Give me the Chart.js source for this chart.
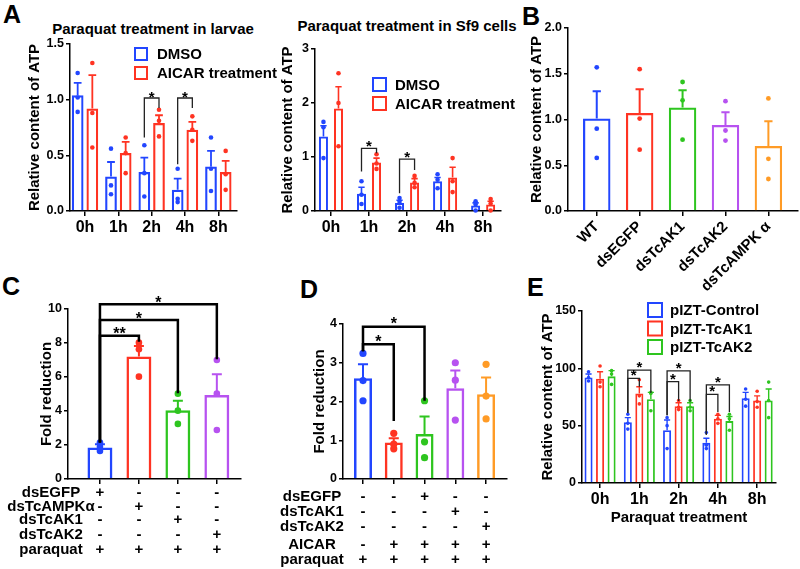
<!DOCTYPE html>
<html lang="en">
<head>
<meta charset="UTF-8">
<title>ATP content panels</title>
<script src="https://cdn.jsdelivr.net/npm/chart.js"></script>
<style>
    body { margin: 0; background: #fff; }
    #fig { position: relative; width: 800px; height: 569px; overflow: hidden;
           font-family: Arial, "Liberation Sans", sans-serif; font-weight: bold; color: #000; }
    #fig canvas, #fig .txt { position: absolute; }
    .letter { font-size: 25px; line-height: 1; }
    .ptitle { font-size: 15px; line-height: 1; width: 300px; text-align: center; }
</style>
</head>
<body>
<div id="fig">
    <div class="txt letter" style="left:3px; top:2px">A</div>
    <div class="txt letter" style="left:522px; top:4px">B</div>
    <div class="txt letter" style="left:2px; top:274px">C</div>
    <div class="txt letter" style="left:300px; top:277px">D</div>
    <div class="txt letter" style="left:527px; top:275px">E</div>
    <div class="txt ptitle" style="left:3px; top:21px">Paraquat treatment in larvae</div>
    <div class="txt ptitle" style="left:257px; top:18px">Paraquat treatment in Sf9 cells</div>

    <canvas id="chartA1" width="278" height="215" style="left:0px; top:30px"></canvas>
    <canvas id="chartA2" width="242" height="215" style="left:278px; top:30px"></canvas>
    <canvas id="chartB" width="280" height="274" style="left:520px; top:18px"></canvas>
    <canvas id="chartC" width="262" height="283" style="left:0px; top:286px"></canvas>
    <canvas id="chartD" width="252" height="269" style="left:268px; top:300px"></canvas>
    <canvas id="chartE" width="272" height="240" style="left:528px; top:290px"></canvas>
</div>
<script>
// ---- data ----
const timeLabels = ['0h', '1h', '2h', '4h', '8h'];

// A left: paraquat in larvae
const larvaeDmsoMean = [1.04, 0.31, 0.35, 0.19, 0.40];
const larvaeDmsoSem  = [0.11, 0.13, 0.13, 0.10, 0.14];
const larvaeDmsoPts  = [[1.24, 1.02, 0.89], [0.56, 0.23, 0.15], [0.59, 0.34, 0.13], [0.38, 0.11, 0.08], [0.66, 0.38, 0.18]];
const larvaeAicarMean = [0.92, 0.52, 0.79, 0.73, 0.35];
const larvaeAicarSem  = [0.30, 0.10, 0.07, 0.07, 0.10];
const larvaeAicarPts  = [[1.33, 0.88, 0.57], [0.66, 0.52, 0.34], [0.91, 0.81, 0.67], [0.85, 0.73, 0.63], [0.54, 0.33, 0.19]];
const larvaeBrackets = [
    { from: [2, 0], to: [2, 1], fromY: 0.66, toY: 0.925, top: 1.015, text: '*' },
    { from: [3, 0], to: [3, 1], fromY: 0.42, toY: 0.925, top: 1.015, text: '*' }
];

// A right: paraquat in Sf9 cells
const sf9DmsoMean = [1.38, 0.32, 0.15, 0.55, 0.10];
const sf9DmsoSem  = [0.20, 0.12, 0.05, 0.07, 0.05];
const sf9DmsoPts  = [[1.65, 1.55, 0.98], [0.55, 0.30, 0.13], [0.24, 0.17, 0.06], [0.68, 0.58, 0.42], [0.18, 0.12, 0.01]];
const sf9AicarMean = [1.90, 0.90, 0.53, 0.62, 0.12];
const sf9AicarSem  = [0.40, 0.08, 0.07, 0.19, 0.06];
const sf9AicarPts  = [[2.55, 2.00, 1.20], [1.05, 0.88, 0.78], [0.65, 0.52, 0.44], [0.98, 0.55, 0.35], [0.22, 0.14, 0.01]];
const sf9Brackets = [
    { from: [1, 0], to: [1, 1], fromY: 0.73, toY: 1.07, top: 1.16, text: '*' },
    { from: [2, 0], to: [2, 1], fromY: 0.33, toY: 0.76, top: 0.96, text: '*' }
];

// B: knockdown
const knockLabels = ['WT', 'dsEGFP', 'dsTcAK1', 'dsTcAK2', 'dsTcAMPK α'];
const knockMean = [1.01, 1.07, 1.13, 0.94, 0.71];
const knockSem  = [0.30, 0.26, 0.19, 0.14, 0.27];
const knockPts  = [[1.57, 0.90, 0.58], [1.55, 1.01, 0.67], [1.41, 1.21, 0.78], [1.20, 0.88, 0.77], [1.23, 0.57, 0.35]];

// C: fold reduction, knockdown + paraquat
const foldCMean = [1.85, 7.20, 4.04, 4.94];
const foldCSem  = [0.20, 0.62, 0.56, 1.22];
const foldCPts  = [[2.14, 1.90, 1.65], [8.02, 7.63, 6.02], [5.02, 4.02, 3.24], [7.00, 5.02, 2.88]];
const foldCRows  = ['dsEGFP', 'dsTcAMPKα', 'dsTcAK1', 'dsTcAK2', 'paraquat'];
const foldCMarks = [['+', '-', '-', '-'], ['-', '+', '-', '-'], ['-', '-', '+', '-'], ['-', '-', '-', '+'], ['+', '+', '+', '+']];
const foldCBrackets = [
    { from: [0, 0], to: [1, 0], fromY: 2.15, toY: 8.08, top: 8.43, text: '**' },
    { from: [0, 0], to: [2, 0], fromY: 2.15, toY: 5.04, top: 9.35, text: '*' },
    { from: [0, 0], to: [3, 0], fromY: 2.15, toY: 7.04, top: 10.28, text: '*' }
];

// D: fold reduction, AICAR
const foldDMean = [2.60, 0.94, 1.16, 2.34, 2.19];
const foldDSem  = [0.36, 0.11, 0.45, 0.46, 0.43];
const foldDPts  = [[3.24, 2.54, 2.02], [1.18, 0.90, 0.78], [2.02, 0.96, 0.55], [3.00, 2.55, 1.52], [2.96, 2.14, 1.55]];
const foldDRows  = ['dsEGFP', 'dsTcAK1', 'dsTcAK2', 'AICAR', 'paraquat'];
const foldDMarks = [['-', '-', '+', '-', '-'], ['-', '-', '-', '+', '-'], ['-', '-', '-', '-', '+'], ['-', '+', '+', '+', '+'], ['+', '+', '+', '+', '+']];
const foldDBrackets = [
    { from: [0, 0], to: [1, 0], fromY: 3.3, toY: 1.50, top: 3.48, text: '*' },
    { from: [0, 0], to: [2, 0], fromY: 3.3, toY: 2.02, top: 3.93, text: '*' }
];

// E: overexpression
const ctrlMean = [92, 53, 46, 35, 74];
const ctrlSem  = [3, 4, 9, 4, 5];
const ctrlPts  = [[97, 92, 89], [60, 52, 47], [57, 50, 30], [44, 33, 30], [82, 73, 67]];
const ak1Mean = [91, 78, 67, 56, 72];
const ak1Sem  = [6, 6, 3, 3, 4];
const ak1Pts  = [[102, 88, 84], [90, 76, 69], [72, 66, 64], [60, 56, 52], [80, 71, 66]];
const ak2Mean = [93, 73, 67, 54, 72];
const ak2Sem  = [5, 6, 3, 4, 10];
const ak2Pts  = [[98, 95, 86], [79, 78, 63], [72, 66, 63], [60, 56, 46], [88, 72, 57]];
const overBrackets = [
    { from: [1, 0], to: [1, 2], fromY: 61, toY: 78.5, top: 98.5, text: '*' },
    { from: [1, 0], to: [1, 1], fromY: 61, toY: 84, top: 91.3, text: '*' },
    { from: [2, 0], to: [2, 2], fromY: 59, toY: 71, top: 97.7, text: '*' },
    { from: [2, 0], to: [2, 1], fromY: 59, toY: 71.5, top: 88.4, text: '*' },
    { from: [3, 0], to: [3, 2], fromY: 42, toY: 62, top: 85.5, text: '*' },
    { from: [3, 0], to: [3, 1], fromY: 42, toY: 62, top: 77.3, text: '*' }
];

const BLUE = '#2246ff', RED = '#ff3322', GREEN = '#2ec51f', PURPLE = '#b752f0', ORANGE = '#ff9b26';
const FONT = 'Arial, "Liberation Sans", sans-serif';

Chart.defaults.font.family = FONT;
Chart.defaults.font.weight = 'bold';
Chart.defaults.color = '#000';

// error bars, dots, significance brackets, legend boxes and the +/- tables
const extras = {
    id: 'extras',
    afterDatasetsDraw(chart, args, o) {
        const ctx = chart.ctx, ys = chart.scales.y, xs = chart.scales.x, area = chart.chartArea;
        ctx.save();
        chart.data.datasets.forEach((ds, di) => {
            chart.getDatasetMeta(di).data.forEach((bar, i) => {
                const col = Array.isArray(ds.borderColor) ? ds.borderColor[i] : ds.borderColor;
                const yTop = ys.getPixelForValue(ds.data[i].y);
                const yErr = ys.getPixelForValue(ds.data[i].y + ds.sem[i]);
                const cap = bar.width * o.capRatio;
                ctx.strokeStyle = col;
                ctx.lineWidth = o.errWidth;
                ctx.beginPath();
                ctx.moveTo(bar.x, yTop); ctx.lineTo(bar.x, yErr);
                ctx.moveTo(bar.x - cap, yErr); ctx.lineTo(bar.x + cap, yErr);
                ctx.stroke();
                ctx.fillStyle = col;
                ds.points[i].forEach(v => {
                    ctx.beginPath();
                    ctx.arc(bar.x, ys.getPixelForValue(v), o.pointRadius, 0, Math.PI * 2);
                    ctx.fill();
                });
            });
        });

        (o.brackets || []).forEach(b => {
            const xa = chart.getDatasetMeta(b.from[1]).data[b.from[0]].x;
            const xb = chart.getDatasetMeta(b.to[1]).data[b.to[0]].x;
            const top = ys.getPixelForValue(b.top);
            ctx.strokeStyle = o.bracketColor;
            ctx.lineWidth = o.bracketWidth;
            ctx.beginPath();
            ctx.moveTo(xa, ys.getPixelForValue(b.fromY));
            ctx.lineTo(xa, top); ctx.lineTo(xb, top);
            ctx.lineTo(xb, ys.getPixelForValue(b.toY));
            ctx.stroke();
            ctx.font = 'bold ' + o.starSize + 'px ' + FONT;
            ctx.textAlign = 'center';
            ctx.textBaseline = 'alphabetic';
            ctx.fillStyle = '#000';
            const m = ctx.measureText(b.text);
            const mid = (m.actualBoundingBoxAscent - m.actualBoundingBoxDescent) / 2;
            ctx.fillText(b.text, (xa + xb) / 2, top - o.starGap + mid);
        });

        if (o.legend) {
            const L = o.legend;
            ctx.font = 'bold ' + L.size + 'px ' + FONT;
            ctx.textAlign = 'left';
            ctx.textBaseline = 'middle';
            chart.data.datasets.forEach((ds, i) => {
                const x = area.left + L.x, y = area.top + L.y + i * L.step;
                ctx.strokeStyle = ds.borderColor;
                ctx.lineWidth = L.lineWidth;
                ctx.strokeRect(x, y, L.box, L.box);
                ctx.fillStyle = '#000';
                ctx.fillText(ds.label, x + L.textDx, y + L.box / 2 + 1);
            });
        }

        if (o.table) {
            const T = o.table;
            ctx.font = 'bold ' + T.size + 'px ' + FONT;
            ctx.fillStyle = '#000';
            ctx.textAlign = 'center';
            ctx.textBaseline = 'middle';
            T.rows.forEach((name, r) => {
                const y = area.bottom + T.rowY[r];
                ctx.fillText(name, area.left + T.labelX, y);
                T.marks[r].forEach((mk, c) => ctx.fillText(mk, xs.getPixelForValue(c), y));
            });
        }
        ctx.restore();
    }
};

function panel(id, o) {
    const datasets = o.series.map(s => ({
        label: s.name,
        data: s.mean.map((v, i) => ({ x: i, y: v })),
        sem: s.sem,
        points: s.points,
        borderColor: s.color,
        backgroundColor: 'rgba(255,255,255,0)',
        borderWidth: o.barBorder,
        categoryPercentage: o.catPct,
        barPercentage: o.barPct
    }));
    const axisLine = { color: '#000', width: 1.5 };
    const tickMarks = { drawOnChartArea: false, drawTicks: true, tickLength: 4, color: '#000', lineWidth: 1.5, offset: false };
    return new Chart(document.getElementById(id), {
        type: 'bar',
        data: { datasets },
        options: {
            responsive: false,
            animation: false,
            layout: { padding: o.pad },
            plugins: {
                legend: { display: false },
                tooltip: { enabled: false },
                extras: o.extras
            },
            scales: {
                x: {
                    type: 'linear', min: o.xMin, max: o.xMax, offset: false,
                    border: axisLine,
                    grid: Object.assign({}, tickMarks, { tickLength: 5 }),
                    ticks: {
                        display: !!o.labels, stepSize: 1, includeBounds: false, autoSkip: false,
                        callback: v => o.labels ? o.labels[v] : '',
                        font: { size: o.xFont || 16, weight: 'bold' }, padding: 2,
                        maxRotation: o.rotation || 0, minRotation: o.rotation || 0
                    },
                    title: o.xTitle
                        ? { display: true, text: o.xTitle, font: { size: 15, weight: 'bold' }, padding: { top: 0, bottom: 3 } }
                        : { display: false },
                    afterFit: s => { s.height = o.xH; }
                },
                y: {
                    min: o.yMin, max: o.yMax,
                    border: axisLine,
                    grid: tickMarks,
                    ticks: { stepSize: o.yStep, callback: v => v.toFixed(o.yDec), font: { size: 12.5, weight: 'bold' }, padding: 2 },
                    title: { display: true, text: o.yTitle, font: { size: o.yTitleSize, weight: 'bold' }, padding: { top: o.yTitlePad, bottom: 0 } },
                    afterFit: s => { s.width = o.yW; }
                }
            }
        },
        plugins: [extras]
    });
}

panel('chartA1', {
    labels: timeLabels,
    series: [
        { name: 'DMSO', color: BLUE, mean: larvaeDmsoMean, sem: larvaeDmsoSem, points: larvaeDmsoPts },
        { name: 'AICAR treatment', color: RED, mean: larvaeAicarMean, sem: larvaeAicarSem, points: larvaeAicarPts }
    ],
    xMin: -0.45, xMax: 4.56, yMin: 0, yMax: 1.5, yStep: 0.5, yDec: 1,
    pad: { top: 14, right: 41, bottom: 0, left: 0 }, yW: 70, xH: 34,
    yTitle: 'Relative content of ATP', yTitleSize: 15, yTitlePad: 26,
    barBorder: 2.2, catPct: 0.88, barPct: 0.8,
    extras: {
        capRatio: 0.33, errWidth: 1.8, pointRadius: 2.3,
        brackets: larvaeBrackets, bracketColor: '#222', bracketWidth: 1.3, starSize: 15, starGap: 3,
        legend: { x: 65, y: 4, step: 19, box: 12, textDx: 22, size: 15, lineWidth: 2 }
    }
});

panel('chartA2', {
    labels: timeLabels,
    series: [
        { name: 'DMSO', color: BLUE, mean: sf9DmsoMean, sem: sf9DmsoSem, points: sf9DmsoPts },
        { name: 'AICAR treatment', color: RED, mean: sf9AicarMean, sem: sf9AicarSem, points: sf9AicarPts }
    ],
    xMin: -0.42, xMax: 4.47, yMin: 0, yMax: 3, yStep: 1, yDec: 0,
    pad: { top: 19, right: 19, bottom: 0, left: 0 }, yW: 37, xH: 34,
    yTitle: 'Relative content of ATP', yTitleSize: 15, yTitlePad: 1,
    barBorder: 2, catPct: 0.79, barPct: 0.6,
    extras: {
        capRatio: 0.35, errWidth: 1.6, pointRadius: 2.3,
        brackets: sf9Brackets, bracketColor: '#222', bracketWidth: 1.3, starSize: 15, starGap: 4,
        legend: { x: 58, y: 29, step: 19, box: 13, textDx: 22, size: 15, lineWidth: 2 }
    }
});

panel('chartB', {
    labels: knockLabels, rotation: 45, xFont: 15,
    series: [
        { name: 'ATP', color: [BLUE, RED, GREEN, PURPLE, ORANGE], mean: knockMean, sem: knockSem, points: knockPts }
    ],
    xMin: -0.67, xMax: 4.69, yMin: 0, yMax: 2, yStep: 0.5, yDec: 1,
    pad: { top: 10, right: 2, bottom: 0, left: 0 }, yW: 48, xH: 81,
    yTitle: 'Relative content of ATP', yTitleSize: 15, yTitlePad: 8,
    barBorder: 2.2, catPct: 0.8, barPct: 0.8,
    extras: { capRatio: 0.15, errWidth: 2, pointRadius: 2.4 }
});

panel('chartC', {
    series: [
        { name: 'Fold', color: [BLUE, RED, GREEN, PURPLE], mean: foldCMean, sem: foldCSem, points: foldCPts }
    ],
    xMin: -0.82, xMax: 3.62, yMin: 0, yMax: 10, yStep: 2, yDec: 0,
    pad: { top: 23, right: 21, bottom: 0, left: 0 }, yW: 68, xH: 90,
    yTitle: 'Fold reduction', yTitleSize: 15, yTitlePad: 38,
    barBorder: 2.5, catPct: 0.8, barPct: 0.8,
    extras: {
        capRatio: 0.2, errWidth: 2, pointRadius: 3.3,
        brackets: foldCBrackets, bracketColor: '#000', bracketWidth: 2.5, starSize: 16, starGap: 5,
        table: { rows: foldCRows, marks: foldCMarks, rowY: [14, 28, 41, 56, 71], labelX: -17, size: 15 }
    }
});

panel('chartD', {
    series: [
        { name: 'Fold', color: [BLUE, RED, GREEN, PURPLE, ORANGE], mean: foldDMean, sem: foldDSem, points: foldDPts }
    ],
    xMin: -0.65, xMax: 4.68, yMin: 0, yMax: 4, yStep: 1, yDec: 0,
    pad: { top: 24, right: 13, bottom: 0, left: 0 }, yW: 75, xH: 90,
    yTitle: 'Fold reduction', yTitleSize: 15, yTitlePad: 43,
    barBorder: 2.5, catPct: 0.76, barPct: 0.77,
    extras: {
        capRatio: 0.28, errWidth: 2, pointRadius: 3.6,
        brackets: foldDBrackets, bracketColor: '#000', bracketWidth: 2.5, starSize: 16, starGap: 6,
        table: { rows: foldDRows, marks: foldDMarks, rowY: [18, 32.5, 47.5, 65.5, 80.5], labelX: -31, size: 15 }
    }
});

panel('chartE', {
    labels: timeLabels, xTitle: 'Paraquat treatment',
    series: [
        { name: 'pIZT-Control', color: BLUE, mean: ctrlMean, sem: ctrlSem, points: ctrlPts },
        { name: 'pIZT-TcAK1', color: RED, mean: ak1Mean, sem: ak1Sem, points: ak1Pts },
        { name: 'pIZT-TcAK2', color: GREEN, mean: ak2Mean, sem: ak2Sem, points: ak2Pts }
    ],
    xMin: -0.46, xMax: 4.48, yMin: 0, yMax: 150, yStep: 50, yDec: 0,
    pad: { top: 21, right: 24, bottom: 0, left: 0 }, yW: 54, xH: 47,
    yTitle: 'Relative content of ATP', yTitleSize: 15, yTitlePad: 11,
    barBorder: 1.8, catPct: 0.88, barPct: 0.7,
    extras: {
        capRatio: 0.38, errWidth: 1.4, pointRadius: 1.8,
        brackets: overBrackets, bracketColor: '#222', bracketWidth: 1.3, starSize: 15, starGap: 5,
        legend: { x: 66, y: -8, step: 18.5, box: 14, textDx: 22, size: 15, lineWidth: 2 }
    }
});
</script>
</body>
</html>
